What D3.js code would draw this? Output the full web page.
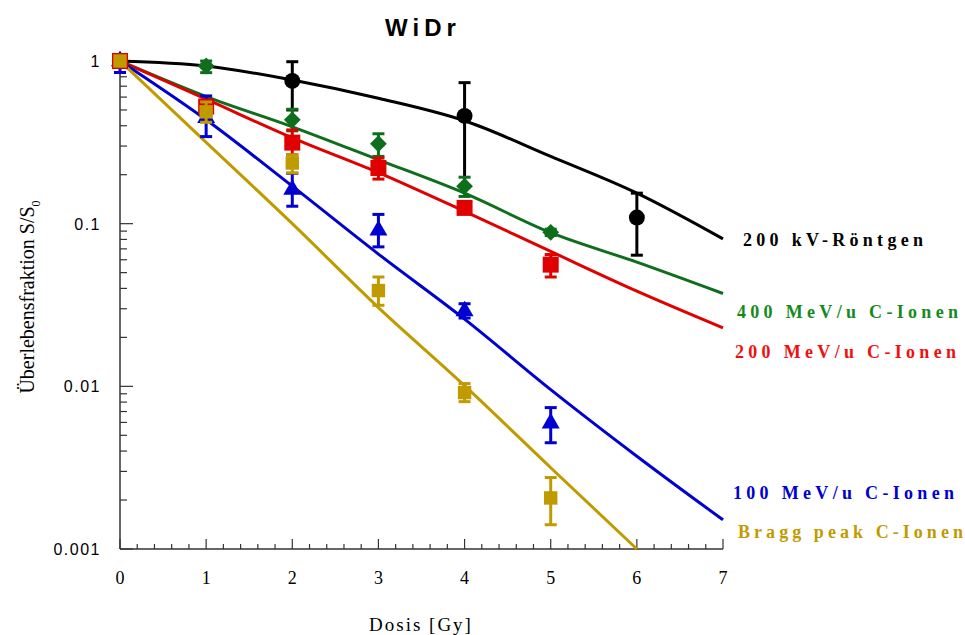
<!DOCTYPE html>
<html>
<head>
<meta charset="utf-8">
<script src="https://cdn.jsdelivr.net/npm/d3@7"></script>
<style>
  body { margin: 0; background: #fff; }
  svg { display: block; }
</style>
</head>
<body>
<svg id="chart" width="965" height="635"></svg>
<script>
// ---- data ----
const doses = [0, 1, 2, 3, 4, 5, 6, 7];
const seriesNames = ["200 kV-Röntgen", "400 MeV/u C-Ionen", "200 MeV/u C-Ionen", "100 MeV/u C-Ionen", "Bragg peak C-Ionen"];
const seriesColors = ["#000000", "#0f6e1c", "#e00000", "#0000d0", "#bf9b00"];
const labelColors = ["#000000", "#168a1e", "#f01010", "#0000d0", "#bf9b00"];

// fitted curves, value at each dose
const fitXray   = [1, 0.932, 0.764, 0.59, 0.429, 0.259, 0.154, 0.0806];
const fitC400   = [1, 0.604, 0.394, 0.247, 0.154, 0.088, 0.058, 0.0372];
const fitC200   = [1, 0.582, 0.337, 0.206, 0.119, 0.0675, 0.0385, 0.0229];
const fitC100   = [1, 0.435, 0.17, 0.065, 0.0259, 0.00955, 0.00372, 0.00151];
const fitBragg  = [1, 0.316, 0.1, 0.0305, 0.0101, 0.00316, 0.001];

// measured points: dose, value, error low, error high
const ptsXray  = [[0, 1, 1, 1], [2, 0.754, 0.5, 0.99], [4, 0.46, 0.169, 0.736], [6, 0.109, 0.064, 0.154]];
const ptsC400  = [[0, 1, 1, 1], [1, 0.932, 0.848, 1.0], [2, 0.435, 0.372, 0.505], [3, 0.31, 0.259, 0.357], [4, 0.17, 0.147, 0.193], [5, 0.0885, 0.0845, 0.0925]];
const ptsC200  = [[0, 1, 1, 1], [1, 0.525, 0.49, 0.56], [2, 0.315, 0.265, 0.377], [3, 0.22, 0.188, 0.253], [4, 0.125, 0.12, 0.13], [5, 0.056, 0.047, 0.0646]];
const ptsC100  = [[0, 1, 0.85, 1], [1, 0.447, 0.343, 0.61], [2, 0.162, 0.128, 0.204], [3, 0.091, 0.072, 0.114], [4, 0.029, 0.0263, 0.0322], [5, 0.00593, 0.0045, 0.0074]];
const ptsBragg = [[0, 1, 1, 1], [1, 0.487, 0.42, 0.56], [2, 0.236, 0.205, 0.265], [3, 0.0388, 0.0315, 0.047], [4, 0.00915, 0.00805, 0.0104], [5, 0.00206, 0.00141, 0.00275]];

const yTickValues = [1, 0.1, 0.01, 0.001];
const yTickLabels = ["1", "0.1", "0.01", "0.001"];

// ---- layout ----
const svg = d3.select("#chart");
const x = d3.scaleLinear().domain([0, 7]).range([120, 723]);
const y = d3.scaleLog().domain([0.001, 1]).range([549, 61]);
const axisColor = "#333";

// y axis
svg.append("line")
    .attr("x1", x(0)).attr("x2", x(0))
    .attr("y1", y(1)).attr("y2", y(0.001))
    .attr("stroke", axisColor).attr("stroke-width", 1.5);
const yMinor = [];
[0.001, 0.01, 0.1].forEach(dec => {
    for (let k = 2; k <= 9; k++) yMinor.push(dec * k);
});
svg.selectAll(".yminor").data(yMinor).enter().append("line")
    .attr("x1", x(0)).attr("x2", x(0) + 7)
    .attr("y1", d => y(d)).attr("y2", d => y(d))
    .attr("stroke", axisColor).attr("stroke-width", 1.2);
svg.selectAll(".ymajor").data(yTickValues).enter().append("line")
    .attr("x1", x(0)).attr("x2", x(0) + 13)
    .attr("y1", d => y(d)).attr("y2", d => y(d))
    .attr("stroke", axisColor).attr("stroke-width", 1.2);
svg.selectAll(".ylab").data(yTickValues).enter().append("text")
    .attr("x", 101).attr("y", d => y(d) + 6)
    .attr("text-anchor", "end")
    .style("font-family", "Liberation Sans, Arial, sans-serif")
    .style("font-size", "16px")
    .style("letter-spacing", "1.5px")
    .text((d, i) => yTickLabels[i]);

// x axis
svg.append("line")
    .attr("x1", x(0)).attr("x2", x(7))
    .attr("y1", y(0.001)).attr("y2", y(0.001))
    .attr("stroke", axisColor).attr("stroke-width", 1.5);
const xMinor = d3.range(0, 35).map(i => i * 0.2).filter(d => Math.abs(d - Math.round(d)) > 0.01);
svg.selectAll(".xminor").data(xMinor).enter().append("line")
    .attr("x1", d => x(d)).attr("x2", d => x(d))
    .attr("y1", y(0.001)).attr("y2", y(0.001) - 5)
    .attr("stroke", axisColor).attr("stroke-width", 1.2);
svg.selectAll(".xmajor").data(doses).enter().append("line")
    .attr("x1", d => x(d)).attr("x2", d => x(d))
    .attr("y1", y(0.001)).attr("y2", y(0.001) - 10)
    .attr("stroke", axisColor).attr("stroke-width", 1.2);
svg.selectAll(".xlab").data(doses).enter().append("text")
    .attr("x", d => x(d)).attr("y", 584)
    .attr("text-anchor", "middle")
    .style("font-family", "Liberation Serif, Times New Roman, serif")
    .style("font-size", "18px")
    .text(d => d);

// titles
svg.append("text")
    .attr("x", 423).attr("y", 36)
    .attr("text-anchor", "middle")
    .style("font-family", "Liberation Sans, Arial, sans-serif")
    .style("font-weight", "bold")
    .style("font-size", "24px")
    .style("letter-spacing", "5px")
    .text("WiDr");

svg.append("text")
    .attr("x", 421).attr("y", 631)
    .attr("text-anchor", "middle")
    .style("font-family", "Liberation Serif, Times New Roman, serif")
    .style("font-size", "19px")
    .style("letter-spacing", "2px")
    .text("Dosis [Gy]");

const yTitle = svg.append("text")
    .attr("transform", "translate(34,297) rotate(-90)")
    .attr("text-anchor", "middle")
    .style("font-family", "Liberation Serif, Times New Roman, serif")
    .style("font-size", "20px");
yTitle.append("tspan").text("Überlebensfraktion S/S");
yTitle.append("tspan").attr("dy", 6).style("font-size", "12px").text("0");

// ---- curves ----
const fits = [fitXray, fitC400, fitC200, fitC100, fitBragg];
const line = d3.line()
    .x((d, i) => x(doses[i]))
    .y(d => y(d))
    .curve(d3.curveMonotoneX);
fits.forEach((f, i) => {
    svg.append("path")
        .attr("d", line(f))
        .attr("fill", "none")
        .attr("stroke", seriesColors[i])
        .attr("stroke-width", 3);
});

// ---- points ----
function drawPoints(pts, color, shape) {
    const g = svg.append("g");
    pts.forEach(p => {
        const cx = x(p[0]), cy = y(p[1]);
        if (p[2] !== p[3]) {
            g.append("line")
                .attr("x1", cx).attr("x2", cx)
                .attr("y1", y(p[2])).attr("y2", y(p[3]))
                .attr("stroke", color).attr("stroke-width", 3);
            [p[2], p[3]].forEach(v => {
                g.append("line")
                    .attr("x1", cx - 6).attr("x2", cx + 6)
                    .attr("y1", y(v)).attr("y2", y(v))
                    .attr("stroke", color).attr("stroke-width", 3);
            });
        }
        g.append("path")
            .attr("transform", `translate(${cx},${cy})`)
            .attr("d", d3.symbol().type(shape.type).size(shape.size)())
            .attr("fill", color);
    });
}

drawPoints(ptsXray, seriesColors[0], {type: d3.symbolCircle, size: 200});
drawPoints(ptsC100, seriesColors[3], {type: d3.symbolTriangle, size: 140});
drawPoints(ptsC400, seriesColors[1], {type: d3.symbolDiamond2, size: 180});
drawPoints(ptsC200, seriesColors[2], {type: d3.symbolSquare, size: 256});
drawPoints(ptsBragg, seriesColors[4], {type: d3.symbolSquare, size: 180});

// ---- series labels ----
const labelPos = [[743, 246, 180], [737, 318, 221], [735, 358, 221], [733, 499, 221], [738, 538, 225]];
seriesNames.forEach((name, i) => {
    svg.append("text")
        .attr("x", labelPos[i][0]).attr("y", labelPos[i][1])
        .attr("textLength", labelPos[i][2])
        .attr("lengthAdjust", "spacing")
        .attr("fill", labelColors[i])
        .style("font-family", "Liberation Serif, Times New Roman, serif")
        .style("font-weight", "bold")
        .style("font-size", "18px")
        .text(name);
});
</script>
</body>
</html>
